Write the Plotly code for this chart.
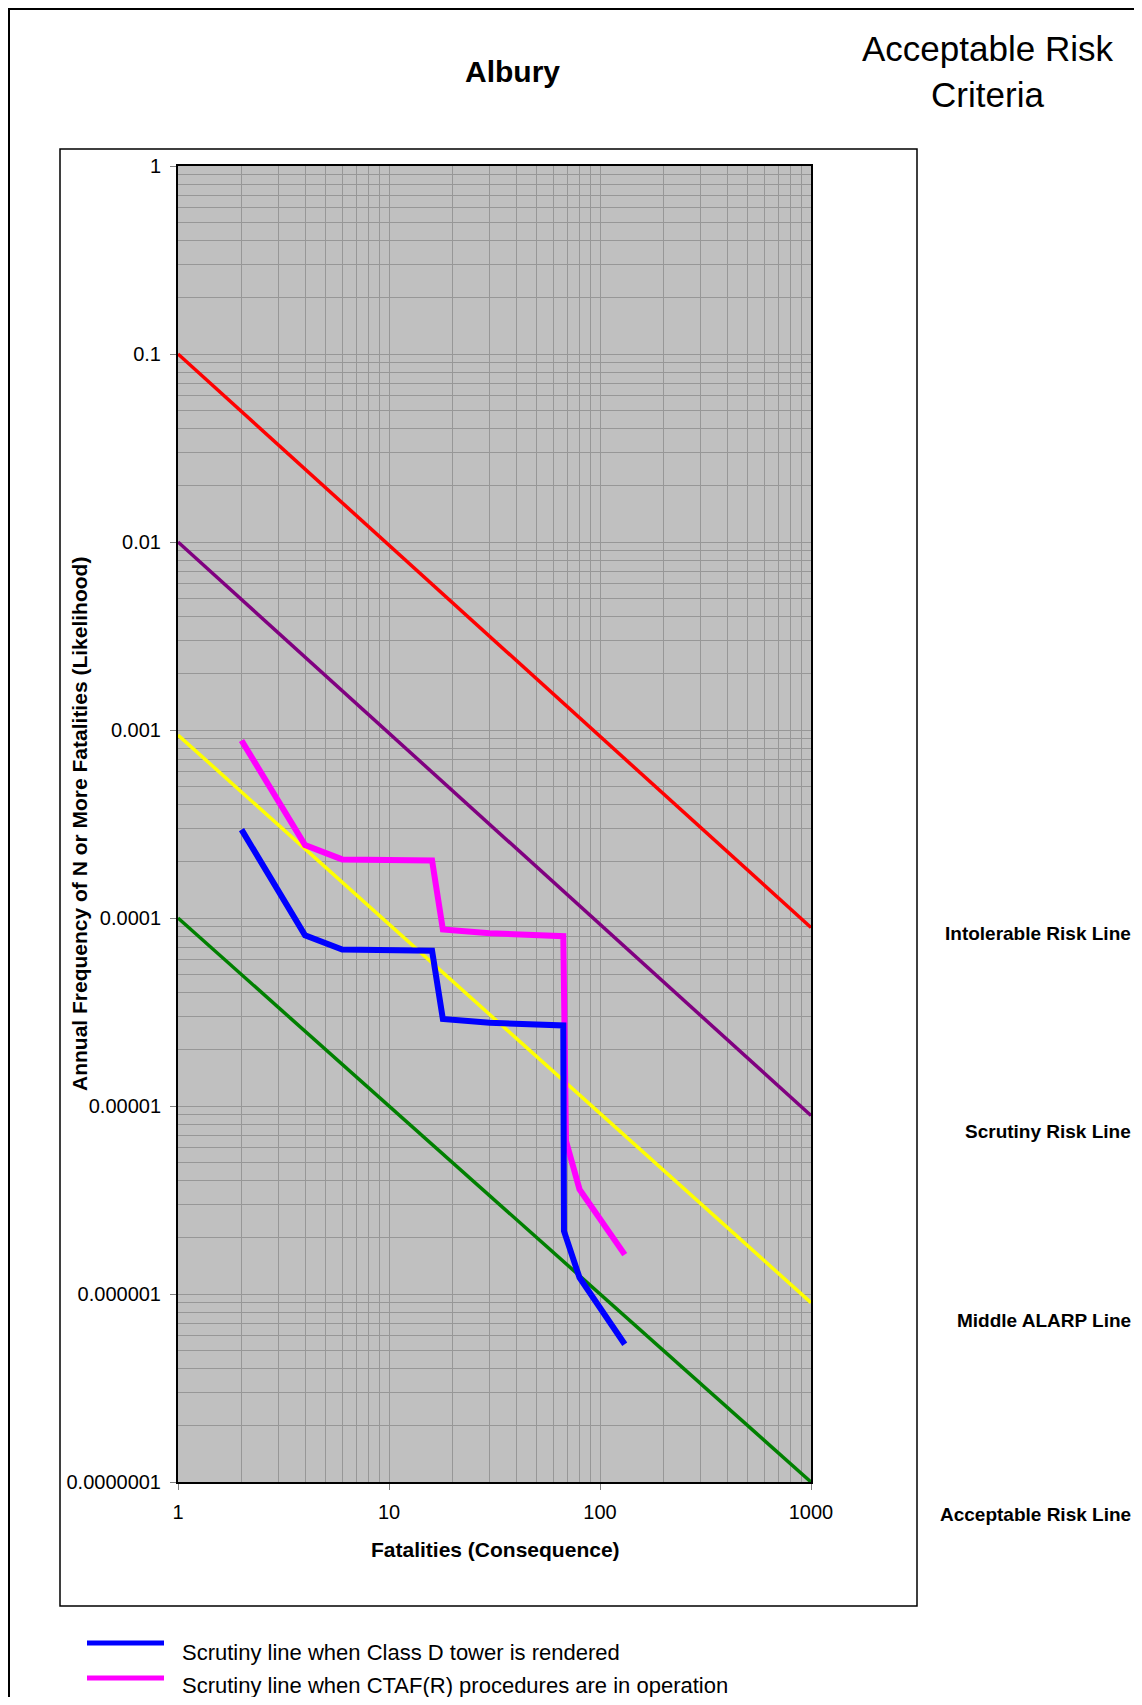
import plotly.graph_objects as go

# ---------------- data ----------------
ref_x = [1, 1000]
intolerable = [0.1, 8.9e-5]
scrutiny = [0.01, 8.9e-6]
middle_alarp = [9.4e-4, 9.0e-7]
acceptable = [1e-4, 1e-7]

class_d_x = [2, 4, 6, 16, 18, 30, 67, 67.5, 80, 131]
class_d_y = [2.95e-4, 8.1e-5, 6.8e-5, 6.7e-5, 2.9e-5, 2.77e-5, 2.68e-5, 2.16e-6, 1.22e-6, 5.4e-7]

ctaf_x = [2, 4, 6, 16, 18, 30, 67, 69, 80, 131]
ctaf_y = [8.8e-4, 2.44e-4, 2.05e-4, 2.02e-4, 8.7e-5, 8.3e-5, 8.0e-5, 6.5e-6, 3.6e-6, 1.62e-6]

x_ticks = [1, 10, 100, 1000]
x_labels = ["1", "10", "100", "1000"]
y_ticks = [1, 0.1, 0.01, 0.001, 0.0001, 0.00001, 0.000001, 0.0000001]
y_labels = ["1", "0.1", "0.01", "0.001", "0.0001", "0.00001", "0.000001", "0.0000001"]

side_labels = ["Intolerable Risk Line", "Scrutiny Risk Line", "Middle ALARP Line", "Acceptable Risk Line"]
legend_labels = ["Scrutiny line when Class D tower is rendered",
                 "Scrutiny line when CTAF(R) procedures are in operation"]

# ---------------- layout geometry (screen pixels) ----------------
OFF = 8                      # page body margin
W, H = 1142 - OFF, 1705 - 2 * OFF
L, R, T, B = 178, 811, 166, 1482   # plot area in screen pixels
PW, PH = R - L, B - T


def px(x):
    return (x - L) / PW


def py(y):
    return (B - y) / PH


FONT = "Liberation Sans, Arial, sans-serif"

fig = go.Figure()

fig.add_trace(go.Scatter(x=ref_x, y=intolerable, mode="lines", line=dict(color="#FF0000", width=3.5),
                         showlegend=False, hoverinfo="skip"))
fig.add_trace(go.Scatter(x=ref_x, y=scrutiny, mode="lines", line=dict(color="#800080", width=3.5),
                         showlegend=False, hoverinfo="skip"))
fig.add_trace(go.Scatter(x=ref_x, y=middle_alarp, mode="lines", line=dict(color="#FFFF00", width=3.5),
                         showlegend=False, hoverinfo="skip"))
fig.add_trace(go.Scatter(x=ref_x, y=acceptable, mode="lines", line=dict(color="#008000", width=3.5),
                         showlegend=False, hoverinfo="skip"))
fig.add_trace(go.Scatter(x=ctaf_x, y=ctaf_y, mode="lines", line=dict(color="#FF00FF", width=6),
                         showlegend=False, hoverinfo="skip"))
fig.add_trace(go.Scatter(x=class_d_x, y=class_d_y, mode="lines", line=dict(color="#0000FF", width=6),
                         showlegend=False, hoverinfo="skip"))

minor_x = [m * 10 ** e for e in range(0, 3) for m in range(2, 10)]
minor_y = [m * 10 ** e for e in range(-7, 0) for m in range(2, 10)]

grid_col = "#979797"

fig.update_xaxes(type="log", range=[0, 3], tickmode="array", tickvals=x_ticks, ticktext=x_labels,
                 showgrid=True, gridcolor=grid_col, gridwidth=1,
                 minor=dict(tickmode="array", tickvals=minor_x, showgrid=True, gridcolor=grid_col,
                            gridwidth=1, ticks=""),
                 showline=True, linecolor="black", linewidth=2, mirror=True,
                 ticks="outside", ticklen=6, tickcolor="#808080", tickwidth=1,
                 ticklabelstandoff=5,
                 tickfont=dict(family=FONT, size=20, color="black"), zeroline=False)
fig.update_yaxes(type="log", range=[-7, 0], tickmode="array", tickvals=y_ticks, ticktext=y_labels,
                 showgrid=True, gridcolor=grid_col, gridwidth=1,
                 minor=dict(tickmode="array", tickvals=minor_y, showgrid=True, gridcolor=grid_col,
                            gridwidth=1, ticks=""),
                 showline=True, linecolor="black", linewidth=2, mirror=True,
                 ticks="outside", ticklen=6, tickcolor="#808080", tickwidth=1,
                 ticklabelstandoff=5,
                 tickfont=dict(family=FONT, size=20, color="black"), zeroline=False)

shapes = [
    # outer figure border (top and left visible)
    dict(type="rect", xref="paper", yref="paper", x0=px(9), x1=px(1170), y0=py(9), y1=py(1730),
         line=dict(color="black", width=2), fillcolor="white", layer="below"),
    # chart area box
    dict(type="rect", xref="paper", yref="paper", x0=px(60), x1=px(917), y0=py(149), y1=py(1606),
         line=dict(color="black", width=1.5), fillcolor="white", layer="below"),
    # plot area background
    dict(type="rect", xref="paper", yref="paper", x0=0, x1=1, y0=0, y1=1,
         line=dict(width=0), fillcolor="#C0C0C0", layer="below"),
    # legend samples
    dict(type="line", xref="paper", yref="paper", x0=px(87), x1=px(164), y0=py(1643), y1=py(1643),
         line=dict(color="#0000FF", width=5)),
    dict(type="line", xref="paper", yref="paper", x0=px(87), x1=px(164), y0=py(1678), y1=py(1678),
         line=dict(color="#FF00FF", width=5)),
]

annotations = [
    dict(text="<b>Albury</b>", x=px(512), y=py(71), xref="paper", yref="paper", showarrow=False,
         xanchor="center", yanchor="middle", font=dict(family=FONT, size=30, color="black")),
    dict(text="Acceptable Risk<br>Criteria", x=px(988), y=py(71), xref="paper", yref="paper", showarrow=False,
         xanchor="center", yanchor="middle", align="center",
         font=dict(family=FONT, size=35, color="black")),
    dict(text="<b>Fatalities (Consequence)</b>", x=px(495), y=py(1549), xref="paper", yref="paper",
         showarrow=False, xanchor="center", yanchor="middle", font=dict(family=FONT, size=21, color="black")),
    dict(text="<b>Annual Frequency of N or More Fatalities (Likelihood)</b>", x=px(79), y=py(824),
         xref="paper", yref="paper", showarrow=False, textangle=-90, xanchor="center", yanchor="middle",
         font=dict(family=FONT, size=21, color="black")),
]

side_y = [933, 1131, 1320, 1514]
for lab, yy in zip(side_labels, side_y):
    annotations.append(dict(text="<b>%s</b>" % lab, x=px(1133), y=py(yy), xref="paper", yref="paper",
                            showarrow=False, xanchor="right", yanchor="middle",
                            font=dict(family=FONT, size=19, color="black")))

leg_y = [1652, 1685]
for lab, yy in zip(legend_labels, leg_y):
    annotations.append(dict(text=lab, x=px(180), y=py(yy), xref="paper", yref="paper",
                            showarrow=False, xanchor="left", yanchor="middle",
                            font=dict(family=FONT, size=22, color="black")))

fig.update_layout(width=W, height=H,
                  margin=dict(l=L - OFF, r=W - (R - OFF), t=T - OFF, b=H - (B - OFF), pad=0),
                  paper_bgcolor="white", plot_bgcolor="rgba(0,0,0,0)",
                  shapes=shapes, annotations=annotations, showlegend=False)

fig.write_html("out.html")
